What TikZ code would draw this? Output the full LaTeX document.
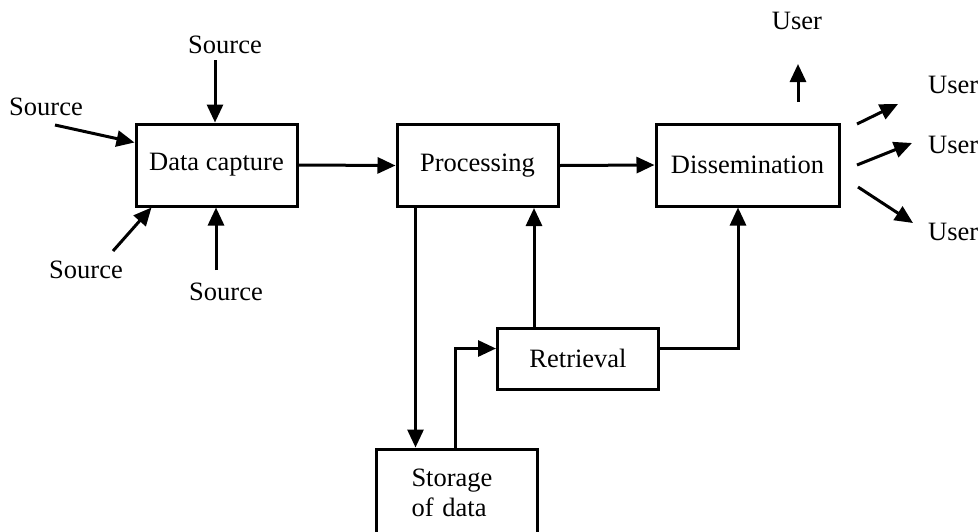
\documentclass[tikz,border=0pt]{standalone}
\usepackage{fontspec}
\setmainfont{Liberation Serif}
\usetikzlibrary{arrows.meta,calc}
\begin{document}
\begin{tikzpicture}[x=1pt,y=-1pt,
  every node/.style={font=\fontsize{26.5}{30}\selectfont},
  blk/.style={draw, line width=3pt, inner sep=0pt, minimum width=161pt, minimum height=82pt},
  lbl/.style={inner sep=0pt, anchor=base},
  arr/.style={line width=3pt, -{Triangle[length=18pt,width=16pt]}}]
\useasboundingbox (0,0) rectangle (979,531);

% main blocks
\node[blk] (dc) at (216.5,165) {Data capture};
\node[blk] (proc) at (477.5,165.5) {Processing};
\node[blk, minimum width=183pt] (diss) at (747.5,165) {Dissemination};
\node[blk, minimum height=61pt] (retr) at (578,358.5) {Retrieval};
\node[blk, minimum height=88pt, text width=90pt, align=left] (stor) at (456.5,493) {Storage\\of data};

% sources
\node[lbl] (srcT) at (225,53) {Source};
\node[lbl] (srcL) at (46,115) {Source};
\node[lbl] (srcBL) at (86,278) {Source};
\node[lbl] (srcB) at (226,300) {Source};

% users
\node[lbl] (usrT) at (797,29) {User};
\node[lbl, anchor=base west] (usr1) at (928,93) {User};
\node[lbl, anchor=base west] (usr2) at (928,153) {User};
\node[lbl, anchor=base west] (usr3) at (928,240) {User};

% inputs to data capture
\coordinate (aT) at (215,60);
\draw[arr] (aT) -- (aT |- dc.north);
\coordinate (aL) at (55,125);
\draw[arr] (aL) -- ($(dc.north west)+(0,20)$);
\coordinate (aBL) at (113,251);
\draw[arr] (aBL) -- ($(dc.south west)+(17,0)$);
\coordinate (aB) at (216,270);
\draw[arr] (aB) -- (aB |- dc.south);

% main flow
\draw[arr] (dc.east) -- (proc.west);
\draw[arr] (proc.east) -- (diss.west);

% outputs to users
\coordinate (uT0) at (798,102);
\coordinate (uT1) at (798,64);
\draw[arr] (uT0) -- (uT1);
\coordinate (u1a) at (857,124);
\coordinate (u1b) at (898,104);
\draw[arr] (u1a) -- (u1b);
\coordinate (u2a) at (857,165);
\coordinate (u2b) at (912,143);
\draw[arr] (u2a) -- (u2b);
\coordinate (u3a) at (858,187);
\coordinate (u3b) at (913,223);
\draw[arr] (u3a) -- (u3b);

% storage and retrieval loop
\coordinate (pd) at ($(proc.south west)+(20,0)$);
\draw[arr] (pd) -- (pd |- stor.north);
\coordinate (sr) at ($(stor.north west)+(81,0)$);
\coordinate (rw) at ($(retr.west)+(0,-10)$);
\draw[arr] (sr) |- (rw);
\coordinate (rp) at ($(retr.north west)+(38,0)$);
\draw[arr] (rp) -- (rp |- proc.south);
\coordinate (re) at ($(retr.east)+(0,-10)$);
\coordinate (dsb) at ($(diss.south)+(-9.5,0)$);
\draw[arr] (re) -| (dsb);
\end{tikzpicture}
\end{document}
